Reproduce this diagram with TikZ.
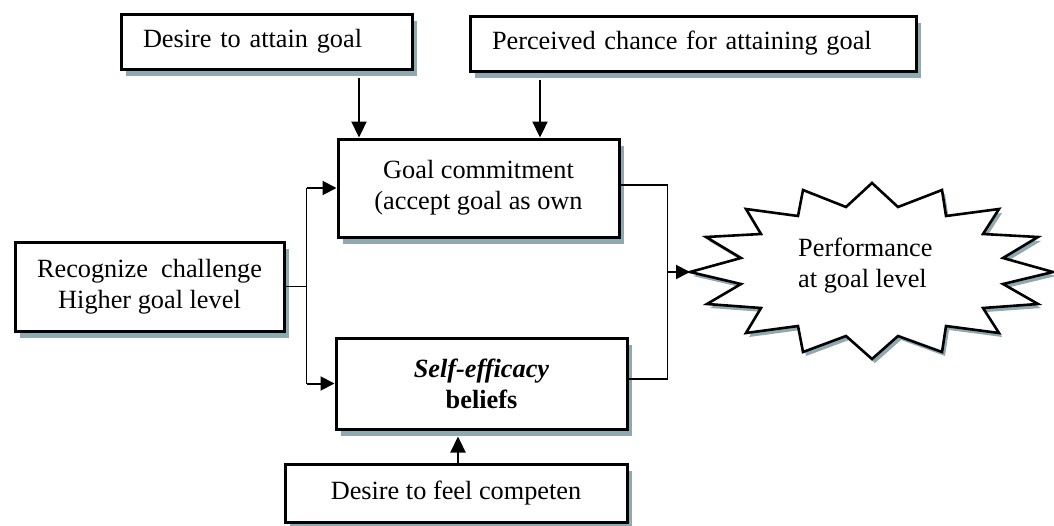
\documentclass[tikz,border=0pt]{standalone}
\usepackage{fontspec}
\setmainfont{Liberation Serif}
\usetikzlibrary{arrows.meta,shadows,calc}
\definecolor{shadowc}{HTML}{8FA9B1}
\begin{document}
\begin{tikzpicture}[x=1pt,y=-1pt,
  box/.style={draw, line width=3pt, fill=white, inner sep=0pt,
    font=\fontsize{26.3}{31}\selectfont, align=center,
    drop shadow={shadow xshift=5pt, shadow yshift=-7pt, fill=shadowc, opacity=1}},
  leftbox/.style={box, align=left, inner xsep=22pt},
  conn/.style={line width=1.6pt},
  arr/.style={line width=2.3pt, -{Triangle[length=16pt,width=15pt]}},
  harr/.style={line width=2pt, -{Triangle[length=14pt,width=14pt]}},
  lbl/.style={font=\fontsize{26.3}{31}\selectfont, inner sep=0pt}
]
\useasboundingbox (0,0) rectangle (1054,525);

% boxes
\node[leftbox, text width=247pt, minimum height=55pt] (attain) at (266.5,41.5) {Desire to attain goal};
\node[leftbox, text width=402pt, minimum height=55pt] (chance) at (693,43.5) {Perceived chance for attaining goal};
\node[box, minimum width=281pt, minimum height=98pt] (commit) at (478.5,188) {Goal commitment\\(accept goal as own};
\node[box, minimum width=269pt, minimum height=89pt] (recog) at (149.5,286.5) {Recognize\ \ challenge\\Higher goal level};
\node[box, minimum width=291pt, minimum height=91pt] (selfeff) at (481.5,383.5) {\textbf{\textit{Self-efficacy}}\\\textbf{beliefs}};
\node[box, minimum width=342pt, minimum height=58pt] (compet) at (456,493) {Desire to feel competen};

% starburst outcome
\draw[line width=2.6pt, fill=white,
  drop shadow={shadow xshift=3pt, shadow yshift=-4pt, fill=shadowc, opacity=1}]
  (872,183) -- (898,207) -- (942,190) -- (946,216) -- (999,209) -- (983,234)
  -- (1038,237) -- (1003,258) -- (1053,272) -- (1003,284) -- (1038,304)
  -- (983,308) -- (999,333) -- (946,326) -- (942,352) -- (898,336)
  -- (872,359) -- (846,336) -- (803,352) -- (798,326) -- (746,333)
  -- (761,308) -- (707,304) -- (741,284) -- (690,272) -- (741,258)
  -- (706,237) -- (761,234) -- (746,209) -- (798,216) -- (803,190)
  -- (846,207) -- cycle;
\node[lbl, anchor=west, align=left] (perf) at (798,266) {Performance\\at goal level};
\coordinate (starL) at (690,272);

% arrows from the top boxes
\coordinate (attainOut) at ([xshift=92.5pt,yshift=-7pt]attain.south);
\draw[arr] (attainOut) -- (attainOut |- commit.north);
\coordinate (chanceOut) at ([xshift=-153pt,yshift=-7pt]chance.south);
\draw[arr] (chanceOut) -- (chanceOut |- commit.north);

% split from the challenge box
\coordinate (jmid) at ([xshift=21pt]recog.east);
\coordinate (jtop) at (jmid |- commit.west);
\coordinate (jbot) at (jmid |- selfeff.west);
\draw[conn] (recog.east) -- (jmid);
\draw[conn] (jtop) -- (jbot);
\draw[harr] (jtop) -- (commit.west);
\draw[harr] (jbot) -- (selfeff.west);

% competence into self-efficacy
\coordinate (competOut) at ([xshift=2pt]compet.north);
\draw[arr] (competOut) -- ([yshift=-6pt]competOut |- selfeff.south);

% merge into performance
\coordinate (rtop) at ([yshift=3pt]commit.east);
\coordinate (rtopR) at ([xshift=47pt]rtop);
\coordinate (rbot) at ([yshift=4.5pt]selfeff.east);
\draw[conn] (rtop) -- (rtopR) |- (rbot);
\draw[harr] (rtopR |- starL) -- (starL);
\end{tikzpicture}
\end{document}
